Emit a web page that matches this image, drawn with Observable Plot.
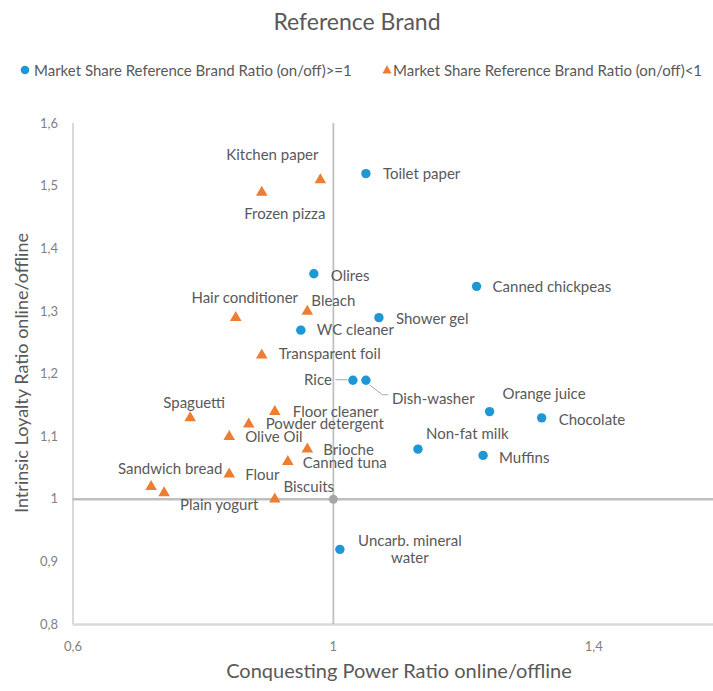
<!DOCTYPE html>
<html><head><meta charset="utf-8">
<script src="https://cdn.jsdelivr.net/npm/d3@7"></script>
<script src="https://cdn.jsdelivr.net/npm/@observablehq/plot@0.6"></script>
<style>
body{margin:0;background:#fff;font-family:Lato,"Open Sans",sans-serif;}
#wrap{position:relative;width:713px;height:691px;overflow:hidden;}
#title{position:absolute;left:0;width:714px;top:7px;text-align:center;font-size:23px;color:#595959;line-height:28px;}
.leg{position:absolute;top:61px;font-size:15px;color:#595959;white-space:nowrap;line-height:18px;}
#chart{position:absolute;top:100px;left:0;}
</style></head><body>
<div id="wrap">
  <div id="title">Reference Brand</div>
  <svg style="position:absolute;left:0;top:0" width="713" height="100">
    <circle cx="25" cy="70" r="4.3" fill="#1f97d4"></circle>
    <path d="M387,65 L391.5,73.5 L382.5,73.5 Z" fill="#ed7d31"></path>
  </svg>
  <div class="leg" style="left:34px">Market Share Reference Brand Ratio (on/off)&gt;=1</div>
  <div class="leg" style="left:393px">Market Share Reference Brand Ratio (on/off)&lt;1</div>
  <div id="chart"></div>
</div>
<script>
// ---- data ----
const blueNames = ["Toilet paper","Olires","Canned chickpeas","Shower gel","WC cleaner","Rice","Dish-washer","Orange juice","Chocolate","Non-fat milk","Muffins","Uncarb. mineral\nwater"];
const blueX = [1.05,0.97,1.22,1.07,0.95,1.03,1.05,1.24,1.32,1.13,1.23,1.01];
const blueY = [1.52,1.36,1.34,1.29,1.27,1.19,1.19,1.14,1.13,1.08,1.07,0.92];

const orangeNames = ["Kitchen paper","Frozen pizza","Hair conditioner","Bleach","Transparent foil","Spaguetti","Floor cleaner","Powder detergent","Olive Oil","Brioche","Canned tuna","Sandwich bread","Plain yogurt","Flour","Biscuits"];
const orangeX = [0.98,0.89,0.85,0.96,0.89,0.78,0.91,0.87,0.84,0.96,0.93,0.72,0.74,0.84,0.91];
const orangeY = [1.51,1.49,1.29,1.30,1.23,1.13,1.14,1.12,1.10,1.08,1.06,1.02,1.01,1.04,1.00];

const xTicks = [0.6,1,1.4];
const yTicks = [0.8,0.9,1,1.1,1.2,1.3,1.4,1.5,1.6];

// ---- label placement (layout only) ----
const place = {
  "Toilet paper":["start",17,0], "Olires":["start",17,2], "Canned chickpeas":["start",16,1],
  "Shower gel":["start",17,1], "WC cleaner":["start",16,0], "Rice":["end",-21,0],
  "Dish-washer":["start",26,19], "Orange juice":["start",13,-18], "Chocolate":["start",17,2],
  "Non-fat milk":["start",8,-15], "Muffins":["start",16,2], "Uncarb. mineral\nwater":["middle",70,0],
  "Kitchen paper":["middle",-48,-25], "Frozen pizza":["middle",23,21], "Hair conditioner":["middle",9,-20],
  "Bleach":["start",4,-11], "Transparent foil":["start",17,-1], "Spaguetti":["middle",4,-15],
  "Floor cleaner":["start",18,0], "Powder detergent":["start",17,0], "Olive Oil":["start",16,0],
  "Brioche":["start",16,1], "Canned tuna":["start",15,1], "Sandwich bread":["middle",19,-18],
  "Plain yogurt":["middle",55,12], "Flour":["start",16,1], "Biscuits":["middle",34,-12]
};

const blue = blueNames.map((n,i)=>({name:n,x:blueX[i],y:blueY[i]}));
const orange = orangeNames.map((n,i)=>({name:n,x:orangeX[i],y:orangeY[i]}));
const blueColor = "#1f97d4", orangeColor = "#ed7d31";
const fmt = d => (Math.round(d*10)/10).toString().replace(".", ",");

const labelMarks = [...blue, ...orange].map(d => {
  const [a,dx,dy] = place[d.name];
  return Plot.text([d], {x:"x", y:"y", text:"name", textAnchor:a, dx, dy, fill:"#595959", fontSize:15, lineHeight:1.07});
});

const plot = Plot.plot({
  width: 713, height: 591,
  marginLeft: 72.5, marginRight: 0, marginTop: 23, marginBottom: 67,
  style: {fontFamily: "Lato, 'Open Sans', sans-serif", fontSize: "13px", color: "#7f7f7f", background: "transparent"},
  x: {domain: [0.6, 1.584], ticks: xTicks, tickFormat: fmt, tickSize: 0, tickPadding: 17, label: null},
  y: {domain: [0.8, 1.6], ticks: yTicks, tickFormat: fmt, tickSize: 0, tickPadding: 15, label: null},
  marks: [
    Plot.ruleX([0.6], {stroke: "#d9d9d9", strokeWidth: 2}),
    Plot.ruleY([0.8], {stroke: "#d9d9d9", strokeWidth: 2.5}),
    Plot.ruleX([1], {stroke: "#bfbfbf", strokeWidth: 1.75}),
    Plot.ruleY([1], {stroke: "#bfbfbf", strokeWidth: 2.5}),
    Plot.dot([{x:1, y:1}], {x: "x", y: "y", r: 4.5, fill: "#a6a6a6"}),
    Plot.dot(blue, {x: "x", y: "y", r: 4.7, fill: blueColor}),
    Plot.dot(orange, {x: "x", y: "y", symbol: "triangle", r: 4.3, fill: orangeColor}),
    ...labelMarks
  ]
});
document.getElementById("chart").appendChild(plot);

// leader lines & axis titles
const sx = plot.scale("x"), sy = plot.scale("y");
const svg = d3.select(plot);
const rice = blue.find(d=>d.name==="Rice"), dish = blue.find(d=>d.name==="Dish-washer");
const rx = sx.apply(rice.x), ry = sy.apply(rice.y);
svg.append("line").attr("x1", rx-17).attr("x2", rx-5).attr("y1", ry).attr("y2", ry)
  .attr("stroke", "#a6a6a6").attr("stroke-width", 1);
const qx = sx.apply(dish.x), qy = sy.apply(dish.y);
svg.append("polyline").attr("points", `${qx+4},${qy+5} ${qx+17},${qy+15} ${qx+23},${qy+15}`)
  .attr("fill", "none").attr("stroke", "#a6a6a6").attr("stroke-width", 1);

svg.append("text").attr("x", 399).attr("y", 573).attr("text-anchor", "middle").attr("dominant-baseline", "middle")
  .attr("fill", "#595959").attr("font-size", 20).attr("font-family", "Lato, sans-serif")
  .text("Conquesting Power Ratio online/offline");
svg.append("text").attr("transform", "translate(23,273) rotate(-90)").attr("text-anchor", "middle").attr("dominant-baseline", "middle")
  .attr("fill", "#595959").attr("font-size", 18).attr("font-family", "Lato, sans-serif")
  .text("Intrinsic Loyalty Ratio online/offline");
</script>
</body></html>
